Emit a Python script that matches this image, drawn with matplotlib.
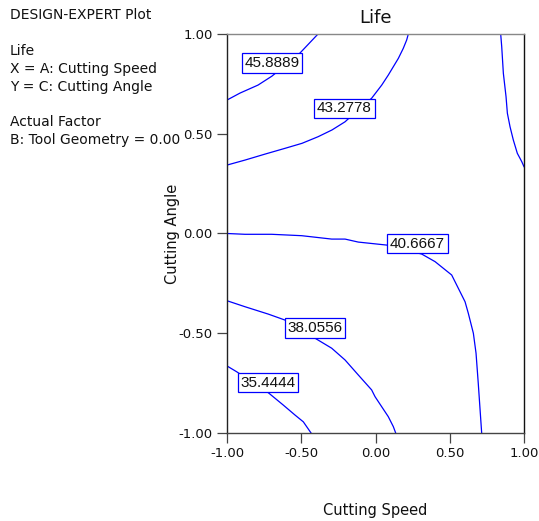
import matplotlib
matplotlib.use("Agg")
import matplotlib.pyplot as plt

# ---------------- data ----------------
x_ticks = [-1.0, -0.5, 0.0, 0.5, 1.0]
x_tick_labels = ["-1.00", "-0.50", "0.00", "0.50", "1.00"]
y_ticks = [-1.0, -0.5, 0.0, 0.5, 1.0]
y_tick_labels = ["-1.00", "-0.50", "0.00", "0.50", "1.00"]

# contour 45.8889
c1_x = [-1.0, -0.912, -0.791, -0.697, -0.603, -0.508, -0.387]
c1_y = [0.669, 0.704, 0.744, 0.789, 0.847, 0.905, 1.0]
# contour 43.2778
c2_x = [-1.0, -0.879, -0.744, -0.609, -0.495, -0.387, -0.293, -0.205, -0.118,
        -0.026, 0.042, 0.086, 0.154, 0.187, 0.210, 0.221]
c2_y = [0.343, 0.368, 0.398, 0.427, 0.452, 0.485, 0.519, 0.560, 0.619,
        0.678, 0.744, 0.794, 0.878, 0.928, 0.970, 1.0]
# unlabeled contour at the top right
c3_x = [0.843, 0.850, 0.861, 0.879, 0.888, 0.906, 0.928, 0.955, 0.985, 1.0]
c3_y = [1.0, 0.936, 0.803, 0.686, 0.603, 0.535, 0.469, 0.402, 0.360, 0.335]
# contour 40.6667
c4_x = [-1.0, -0.879, -0.699, -0.497, -0.295, -0.205, -0.116, 0.075, 0.311,
        0.401, 0.513, 0.603, 0.625, 0.659, 0.677, 0.692, 0.715]
c4_y = [0.0, -0.004, -0.004, -0.011, -0.028, -0.028, -0.043, -0.058, -0.103,
        -0.141, -0.208, -0.342, -0.400, -0.500, -0.600, -0.751, -1.0]
# contour 38.0556
c5_x = [-1.0, -0.879, -0.722, -0.609, -0.407, -0.295, -0.205, -0.116, -0.026,
        -0.003, 0.086, 0.120, 0.136]
c5_y = [-0.337, -0.367, -0.404, -0.434, -0.525, -0.575, -0.634, -0.709, -0.784,
        -0.818, -0.918, -0.968, -1.0]
# contour 35.4444
c6_x = [-1.0, -0.935, -0.722, -0.621, -0.542, -0.486, -0.434]
c6_y = [-0.664, -0.693, -0.798, -0.860, -0.910, -0.944, -1.0]

contour_lines = [(c1_x, c1_y), (c2_x, c2_y), (c3_x, c3_y),
                 (c4_x, c4_y), (c5_x, c5_y), (c6_x, c6_y)]

label_texts = ["45.8889", "43.2778", "40.6667", "38.0556", "35.4444"]
label_x = [-0.697, -0.209, 0.283, -0.407, -0.723]
label_y = [0.855, 0.627, -0.051, -0.474, -0.747]

info_lines = ["DESIGN-EXPERT Plot", "Life", "X = A: Cutting Speed",
              "Y = C: Cutting Angle", "Actual Factor",
              "B: Tool Geometry = 0.00"]
info_baselines_px = [19, 55, 73, 91, 126, 144]

# ---------------- figure ----------------
W, H = 539, 521
fig = plt.figure(figsize=(W / 100, H / 100), dpi=100)
fig.patch.set_facecolor("white")

ax_left, ax_right, ax_top, ax_bottom = 227, 524, 34, 433
ax = fig.add_axes([ax_left / W, 1 - ax_bottom / H,
                   (ax_right - ax_left) / W, (ax_bottom - ax_top) / H])

BLUE = "#0000ff"
for xs, ys in contour_lines:
    ax.plot(xs, ys, color=BLUE, lw=0.9, solid_joinstyle="round", zorder=2)

for t, lx, ly in zip(label_texts, label_x, label_y):
    ax.text(lx, ly, t, ha="center", va="center", fontsize=11,
            family="Liberation Sans", color="#111111", zorder=5,
            bbox=dict(boxstyle="square,pad=0.18", fc="white", ec=BLUE, lw=0.9))

ax.set_xlim(-1, 1)
ax.set_ylim(-1, 1)
ax.set_xticks(x_ticks)
ax.set_xticklabels(x_tick_labels)
ax.set_yticks(y_ticks)
ax.set_yticklabels(y_tick_labels)

ax.tick_params(direction="out", length=7.2, width=0.9, color="#444444",
               labelsize=9.5, labelcolor="#111111", pad=3)
for lab in ax.get_xticklabels() + ax.get_yticklabels():
    lab.set_family("DejaVu Sans")

ax.spines["top"].set_color("#888888")
ax.spines["bottom"].set_color("#444444")
ax.spines["left"].set_color("#222222")
ax.spines["right"].set_color("#111111")
for s in ax.spines.values():
    s.set_linewidth(1.0)

ax.set_title("Life", fontsize=13, family="DejaVu Sans", color="#111111", pad=8)

ax.set_xlabel("Cutting Speed", fontsize=10.5, family="DejaVu Sans",
              color="#111111", va="center", ha="center")
ax.xaxis.set_label_coords(0.5, -(511 - ax_bottom) / (ax_bottom - ax_top))
ax.set_ylabel("Cutting Angle", fontsize=10.5, family="DejaVu Sans",
              color="#111111", va="center", ha="center")
ax.yaxis.set_label_coords((172 - ax_left) / (ax_right - ax_left), 0.5)

for txt, b in zip(info_lines, info_baselines_px):
    fig.text(10 / W, 1 - b / H, txt, fontsize=10, family="DejaVu Sans",
             color="#111111", ha="left", va="baseline")

fig.savefig("out.png", dpi=100, facecolor="white")
